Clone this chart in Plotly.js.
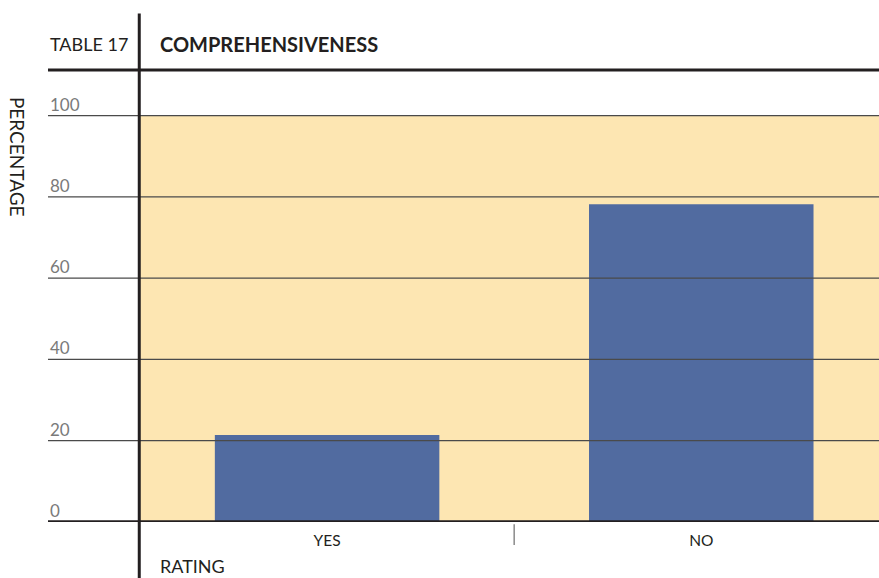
<!DOCTYPE html>
<html>
<head>
<meta charset="utf-8">
<script src="https://cdn.plot.ly/plotly-3.0.1.min.js"></script>
<style>
  html, body { margin: 0; padding: 0; background: #fff; }
  #chart { width: 879px; height: 578px; }
</style>
</head>
<body>
<div id="chart"></div>
<script>
// Comprehensiveness rating, share of responses (%)
const categories = ['YES', 'NO'];
const percentages = [21.4, 78.2];
const yTicks = [0, 20, 40, 60, 80, 100];
const yTickLabels = ['0', '20', '40', '60', '80', '100'];

const FONT = 'Lato, "Open Sans", sans-serif';
const labelLeft = -0.1245;   // paper x where the left label column starts

const shapes = [];
const annotations = [];

// pale band behind the bars, 0..100
shapes.push({
  type: 'rect', layer: 'below', xref: 'paper', yref: 'y',
  x0: 0, x1: 1, y0: 0, y1: 100,
  fillcolor: '#FDE6B2', line: { width: 0 }
});

// gridlines that run out into the label column, with labels sitting on them
yTicks.forEach((v, i) => {
  if (v !== 0) {
    shapes.push({
      type: 'line', layer: 'above', xref: 'paper', yref: 'y',
      x0: labelLeft, x1: 1, y0: v, y1: v,
      line: { color: '#4a4a4a', width: 1.2 }
    });
  }
  annotations.push({
    xref: 'paper', yref: 'y', x: labelLeft, y: v,
    xanchor: 'left', yanchor: 'bottom', yshift: -1,
    text: yTickLabels[i], showarrow: false,
    font: { family: FONT, size: 17, color: '#7a7a7a' }
  });
});

// heavy baseline
shapes.push({
  type: 'line', layer: 'above', xref: 'paper', yref: 'y',
  x0: labelLeft, x1: 1, y0: 0, y1: 0,
  line: { color: '#231f20', width: 3.5 }
});
// heavy rule under the heading
shapes.push({
  type: 'line', layer: 'above', xref: 'paper', yref: 'paper',
  x0: labelLeft, x1: 1, y0: 1, y1: 1,
  line: { color: '#231f20', width: 3 }
});
// heavy vertical rule
shapes.push({
  type: 'line', layer: 'above', xref: 'paper', yref: 'paper',
  x0: -0.001, x1: -0.001, y0: -0.13, y1: 1.125,
  line: { color: '#231f20', width: 3 }
});
// divider between categories
shapes.push({
  type: 'line', layer: 'above', xref: 'x', yref: 'paper',
  x0: 0.5, x1: 0.5, y0: -0.005, y1: -0.051,
  line: { color: '#8a8a8a', width: 1.5 }
});

annotations.push(
  { xref: 'paper', yref: 'paper', x: labelLeft, y: 1.0575, xanchor: 'left', yanchor: 'middle',
    text: 'TABLE 17', showarrow: false, font: { family: FONT, size: 18, color: '#231f20' } },
  { xref: 'paper', yref: 'paper', x: 0.0244, y: 1.0575, xanchor: 'left', yanchor: 'middle',
    text: '<b>COMPREHENSIVENESS</b>', showarrow: false,
    font: { family: FONT, size: 20, color: '#231f20', weight: 900 } },
  { xref: 'paper', yref: 'paper', x: -0.165, y: 0.8075, xanchor: 'center', yanchor: 'middle',
    text: 'PERCENTAGE', textangle: 90, showarrow: false,
    font: { family: FONT, size: 19, color: '#231f20' } },
  { xref: 'paper', yref: 'paper', x: 0.0244, y: -0.098, xanchor: 'left', yanchor: 'middle',
    text: 'RATING', showarrow: false, font: { family: FONT, size: 18, color: '#231f20' } }
);

const trace = {
  type: 'bar',
  x: categories,
  y: percentages,
  width: 0.6,
  marker: { color: '#516BA0', line: { width: 0 } },
  hoverinfo: 'x+y'
};

const layout = {
  width: 879, height: 578,
  margin: { l: 140, r: 0, t: 70, b: 56, pad: 0 },
  paper_bgcolor: '#ffffff', plot_bgcolor: 'rgba(0,0,0,0)',
  showlegend: false,
  xaxis: {
    type: 'category', range: [-0.5, 1.475],
    showgrid: false, zeroline: false, showline: false,
    ticks: '', ticklabelstandoff: 7,
    tickfont: { family: FONT, size: 15.5, color: '#231f20' }
  },
  yaxis: {
    range: [0, 111.2], showgrid: false, zeroline: false, showline: false,
    showticklabels: false, ticks: '', tickvals: yTicks
  },
  shapes: shapes,
  annotations: annotations
};

Plotly.newPlot('chart', [trace], layout, { displayModeBar: false, staticPlot: true });
</script>
</body>
</html>
